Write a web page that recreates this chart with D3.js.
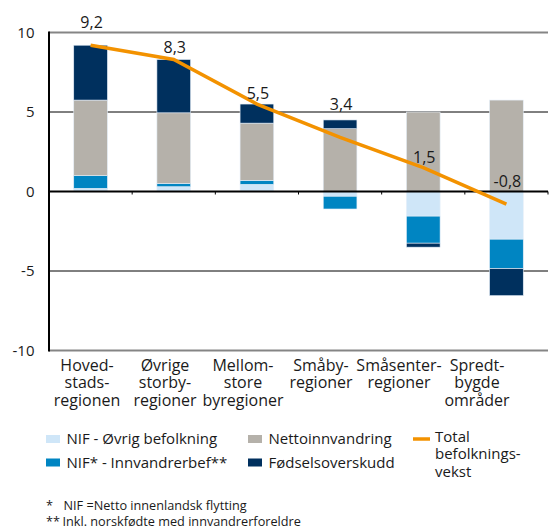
<!DOCTYPE html>
<html>
<head>
<meta charset="utf-8">
<script src="https://cdn.jsdelivr.net/npm/d3@7"></script>
<style>
  body { margin: 0; background: #fff; }
  svg text { font-family: "Open Sans", sans-serif; fill: #1a1a1a; }
</style>
</head>
<body>
<svg id="chart" width="555" height="529"></svg>
<script>
// categories (split into label lines)
const categories = [
    ["Hoved-", "stads-", "regionen"],
    ["Øvrige", "storby-", "regioner"],
    ["Mellom-", "store", "byregioner"],
    ["Småby-", "regioner"],
    ["Småsenter-", "regioner"],
    ["Spredt-", "bygde", "områder"]
];

// series
const nifOvrig      = [0.2, 0.3, 0.45, -0.3, -1.55, -3.0];
const nifInnvandrer = [0.8, 0.2, 0.25, -0.8, -1.7, -1.85];
const nettoinnvandr = [4.75, 4.45, 3.6, 3.95, 5.0, 5.75];
const fodselsoversk = [3.45, 3.35, 1.2, 0.55, -0.25, -1.7];
const totalVekst    = [9.2, 8.3, 5.5, 3.4, 1.5, -0.8];
const totalLabels   = ["9,2", "8,3", "5,5", "3,4", "1,5", "-0,8"];

const yTicks = [-10, -5, 0, 5, 10];

const series = [
    {name: "NIF - Øvrig befolkning", values: nifOvrig, color: "#cfe6f8"},
    {name: "NIF* - Innvandrerbef**", values: nifInnvandrer, color: "#0085c2"},
    {name: "Nettoinnvandring", values: nettoinnvandr, color: "#b5b1aa"},
    {name: "Fødselsoverskudd", values: fodselsoversk, color: "#00305e"}
];

const svg = d3.select("#chart");
const plotLeft = 49, plotRight = 548, plotTop = 32.5, plotBottom = 350.5;

const x = d3.scaleBand().domain(d3.range(categories.length)).range([plotLeft, plotRight]);
// category text sits on a slightly narrower spread than the bars
const xLabel = d3.scaleBand().domain(d3.range(categories.length)).range([48, 516]);
const y = d3.scaleLinear().domain([-10, 10]).range([plotBottom, plotTop]);
const barW = x.bandwidth() * 0.405;

// grid lines
svg.append("g").selectAll("line")
    .data(yTicks)
    .enter().append("line")
    .attr("x1", plotLeft).attr("x2", plotRight)
    .attr("y1", d => y(d)).attr("y2", d => y(d))
    .attr("stroke", d => Math.abs(d) === 10 ? "#858585" : "#000")
    .attr("stroke-width", d => Math.abs(d) === 10 ? 2 : 1);

// y tick labels
svg.append("g").selectAll("text")
    .data(yTicks)
    .enter().append("text")
    .attr("x", 34.5)
    .attr("y", d => y(d))
    .attr("dy", "0.35em")
    .attr("text-anchor", "end")
    .attr("font-size", 15)
    .text(d => d);

// stacked bars, positives up and negatives down
const bars = svg.append("g");
categories.forEach((c, i) => {
    let pos = 0, neg = 0;
    series.forEach(s => {
        const v = s.values[i];
        let y0, y1;
        if (v >= 0) { y0 = pos; y1 = pos + v; pos = y1; }
        else { y0 = neg; y1 = neg + v; neg = y1; }
        bars.append("rect")
            .attr("x", x(i) + (x.bandwidth() - barW) / 2)
            .attr("y", y(Math.max(y0, y1)))
            .attr("width", barW)
            .attr("height", Math.abs(y(y0) - y(y1)))
            .attr("fill", s.color)
            .attr("stroke", "#e4eef8")
            .attr("stroke-width", 0.6);
    });
});

// zero line and axis
svg.append("line")
    .attr("x1", plotLeft).attr("x2", plotRight)
    .attr("y1", y(0)).attr("y2", y(0))
    .attr("stroke", "#000").attr("stroke-width", 2);
svg.append("g").selectAll("line")
    .data(d3.range(1, categories.length + 1))
    .enter().append("line")
    .attr("x1", d => x(0) + d * x.step()).attr("x2", d => x(0) + d * x.step())
    .attr("y1", y(0)).attr("y2", y(0) + 3)
    .attr("stroke", "#000").attr("stroke-width", 1);
svg.append("line")
    .attr("x1", plotLeft).attr("x2", plotLeft)
    .attr("y1", plotTop - 1).attr("y2", plotBottom + 1)
    .attr("stroke", "#000").attr("stroke-width", 2);

// total line
const line = d3.line()
    .x((d, i) => x(i) + x.bandwidth() / 2)
    .y(d => y(d));
svg.append("path")
    .datum(totalVekst)
    .attr("d", line)
    .attr("fill", "none")
    .attr("stroke", "#f39200")
    .attr("stroke-width", 3.5);

// value labels
const labelDy = [-23, -12, -11, -33, -10, -23];
svg.append("g").selectAll("text")
    .data(totalVekst)
    .enter().append("text")
    .attr("x", (d, i) => x(i) + x.bandwidth() / 2 + 1)
    .attr("y", (d, i) => y(d) + labelDy[i])
    .attr("dy", "0.35em")
    .attr("text-anchor", "middle")
    .attr("font-size", 16)
    .text((d, i) => totalLabels[i]);

// category labels
const cat = svg.append("g").selectAll("text")
    .data(categories)
    .enter().append("text")
    .attr("x", (d, i) => xLabel(i) + xLabel.bandwidth() / 2)
    .attr("y", 365)
    .attr("text-anchor", "middle")
    .attr("font-size", 16);
cat.selectAll("tspan")
    .data(d => d)
    .enter().append("tspan")
    .attr("x", function() { return d3.select(this.parentNode).attr("x"); })
    .attr("dy", (d, i) => i === 0 ? "0.35em" : 17.5)
    .text(d => d);

// legend
const legendPos = [[46, 439], [46, 462.5], [248, 439], [248, 462.5]];
const legend = svg.append("g").selectAll("g")
    .data(series)
    .enter().append("g")
    .attr("transform", (d, i) => `translate(${legendPos[i][0]},${legendPos[i][1]})`);
legend.append("rect")
    .attr("x", 0).attr("y", -4)
    .attr("width", 14).attr("height", 8)
    .attr("fill", d => d.color);
legend.append("text")
    .attr("x", 20.5).attr("dy", "0.35em")
    .attr("font-size", 15)
    .text(d => d.name);

const totalLeg = svg.append("g").attr("transform", "translate(413,439)");
totalLeg.append("line")
    .attr("x1", 0).attr("x2", 17)
    .attr("stroke", "#f39200").attr("stroke-width", 3.5);
totalLeg.append("text")
    .attr("x", 22).attr("y", -2.5)
    .attr("font-size", 15)
    .selectAll("tspan")
    .data(["Total", "befolknings-", "vekst"])
    .enter().append("tspan")
    .attr("x", 22)
    .attr("dy", (d, i) => i === 0 ? "0.35em" : 17.5)
    .text(d => d);

// footnotes
const notes = [["*", "NIF =Netto innenlandsk flytting", 63.5], ["**", "Inkl. norskfødte med innvandrerforeldre", 62.5]];
notes.forEach((n, i) => {
    const t = svg.append("text")
        .attr("y", 505.5 + i * 16.5)
        .attr("dy", "0.35em")
        .attr("font-size", 12.7);
    t.append("tspan").attr("x", 46).text(n[0]);
    t.append("tspan").attr("x", n[2]).text(n[1]);
});
</script>
</body>
</html>
